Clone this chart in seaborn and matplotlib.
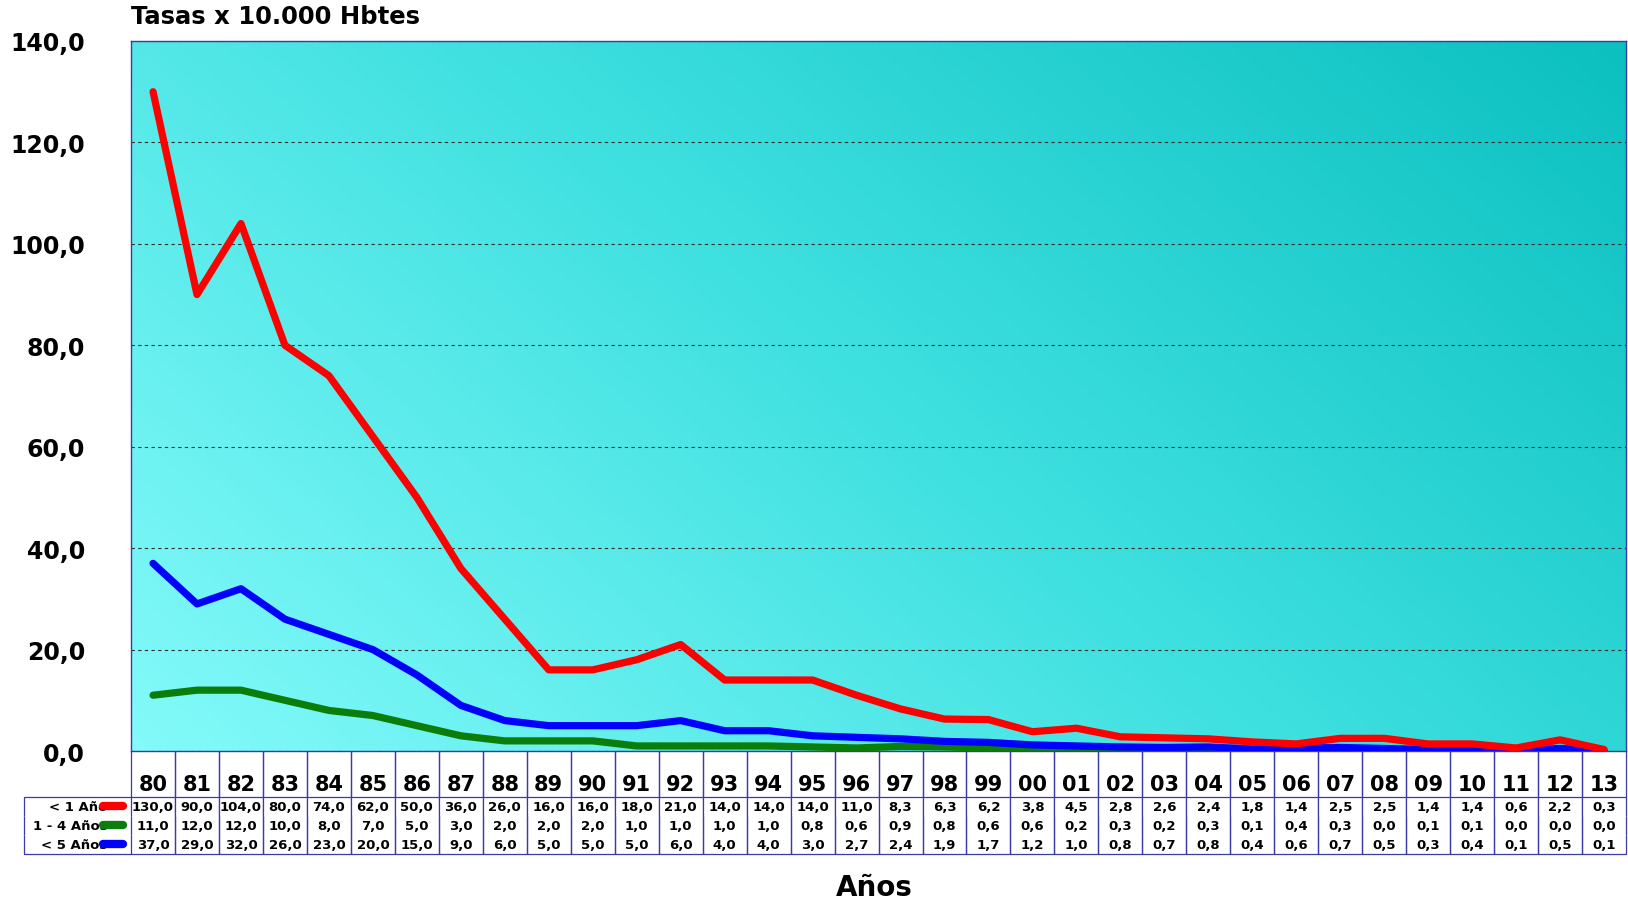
import numpy as np
import pandas as pd
import matplotlib
matplotlib.use("Agg")
import matplotlib.pyplot as plt
import seaborn as sns
from matplotlib.colors import LinearSegmentedColormap
from matplotlib.lines import Line2D

# data
years = ["80", "81", "82", "83", "84", "85", "86", "87", "88", "89", "90", "91",
         "92", "93", "94", "95", "96", "97", "98", "99", "00", "01", "02", "03",
         "04", "05", "06", "07", "08", "09", "10", "11", "12", "13"]
menor1 = [130.0, 90.0, 104.0, 80.0, 74.0, 62.0, 50.0, 36.0, 26.0, 16.0, 16.0, 18.0,
          21.0, 14.0, 14.0, 14.0, 11.0, 8.3, 6.3, 6.2, 3.8, 4.5, 2.8, 2.6,
          2.4, 1.8, 1.4, 2.5, 2.5, 1.4, 1.4, 0.6, 2.2, 0.3]
de1a4 = [11.0, 12.0, 12.0, 10.0, 8.0, 7.0, 5.0, 3.0, 2.0, 2.0, 2.0, 1.0,
         1.0, 1.0, 1.0, 0.8, 0.6, 0.9, 0.8, 0.6, 0.6, 0.2, 0.3, 0.2,
         0.3, 0.1, 0.4, 0.3, 0.0, 0.1, 0.1, 0.0, 0.0, 0.0]
menor5 = [37.0, 29.0, 32.0, 26.0, 23.0, 20.0, 15.0, 9.0, 6.0, 5.0, 5.0, 5.0,
          6.0, 4.0, 4.0, 3.0, 2.7, 2.4, 1.9, 1.7, 1.2, 1.0, 0.8, 0.7,
          0.8, 0.4, 0.6, 0.7, 0.5, 0.3, 0.4, 0.1, 0.5, 0.1]
series_names = ["< 1 Año", "1 - 4 Años", "< 5 Años"]
series_colors = ["#ff0000", "#0a7d0a", "#0000ff"]

def fmt(v):
    return ("%.1f" % v).replace(".", ",")

sns.set_theme(style="white")
plt.rcParams['font.family'] = ['DejaVu Sans']
plt.rcParams['text.color'] = 'black'
plt.rcParams['ytick.color'] = 'black'
plt.rcParams['xtick.color'] = 'black'

fig = plt.figure(figsize=(16.28, 9.03), dpi=100)
ax = fig.add_axes([0.0805, 0.1672, 0.9183, 0.7863])

# gradient background
cmap = LinearSegmentedColormap.from_list("bg", ["#84fafa", "#3fe0e0", "#0cc0c0"])
gx, gy = np.meshgrid(np.linspace(0, 1, 200), np.linspace(0, 1, 200))
ax.imshow(gx * 0.65 + gy * 0.35, cmap=cmap, origin="lower", extent=[0, 1, 0, 1],
          transform=ax.transAxes, aspect="auto", zorder=0)

x = np.arange(len(years))
df = pd.DataFrame({"x": x, "menor1": menor1, "de1a4": de1a4, "menor5": menor5})
for col, c, z in [("de1a4", series_colors[1], 3), ("menor5", series_colors[2], 4),
                  ("menor1", series_colors[0], 5)]:
    sns.lineplot(data=df, x="x", y=col, color=c, linewidth=5.2, ax=ax, zorder=z,
                 solid_joinstyle="round", solid_capstyle="round")

ax.set_xlim(-0.5, len(years) - 0.5)
ax.set_ylim(0, 140)
ax.set_yticks(np.arange(0, 141, 20))
ax.set_yticklabels([fmt(v) for v in np.arange(0, 141, 20)], fontsize=17,
                   fontweight="bold")
ax.yaxis.grid(True, linestyle=(0, (3, 3)), color="#303030", linewidth=0.8, zorder=1)
ax.tick_params(axis="y", left=True, length=0, pad=33)
ax.set_xticks([])
ax.set_xlabel("")
ax.set_ylabel("")
for s in ax.spines.values():
    s.set_color("#3a3aa8")
    s.set_linewidth(1.0)
for gl in ax.get_ygridlines():
    gl.set_zorder(1)

# data table
cell_text = [[fmt(v) for v in menor1], [fmt(v) for v in de1a4], [fmt(v) for v in menor5]]
tab = ax.table(cellText=cell_text, colLabels=years, rowLabels=series_names,
               cellLoc="center", rowLoc="right", bbox=[0, -0.145, 1, 0.145])
tab.auto_set_font_size(False)
nrows = len(cell_text)
for (r, c), cell in tab.get_celld().items():
    cell.set_edgecolor("#3a3aa8")
    cell.set_linewidth(0.9)
    cell.set_facecolor("white")
    if r == 0:
        cell.set_height(2.4)
        cell.get_text().set_fontsize(15)
        cell.get_text().set_fontweight("bold")
        cell.get_text().set_va("top")
        cell.visible_edges = "LR"
    else:
        cell.set_height(1.0)
        cell.get_text().set_fontsize(9.5)
        cell.get_text().set_fontweight("bold")
        if c == -1:
            cell.visible_edges = "TL" if r == 1 else ("BL" if r == nrows else "L")
            cell.PAD = 0.22
        else:
            cell.visible_edges = "TLR" if r == 1 else ("BLR" if r == nrows else "LR")

# legend keys in row-label cells
fig.canvas.draw()
renderer = fig.canvas.get_renderer()
for i, c in enumerate(series_colors):
    cell = tab[(i + 1, -1)]
    bb = cell.get_window_extent(renderer)
    xf = (bb.x1 - 18) / fig.bbox.width
    yf = (bb.y0 + bb.y1) / 2 / fig.bbox.height
    fig.add_artist(Line2D([xf - 0.006, xf + 0.006], [yf, yf], color=c, linewidth=6,
                          solid_capstyle="round", transform=fig.transFigure))

fig.text(0.0805, 0.981, "Tasas x 10.000 Hbtes", fontsize=17.5, fontweight="bold",
         ha="left", va="center")
fig.text(0.537, 0.017, "Años", fontsize=20, fontweight="bold", ha="center", va="center")

fig.savefig("out.png", dpi=100)
